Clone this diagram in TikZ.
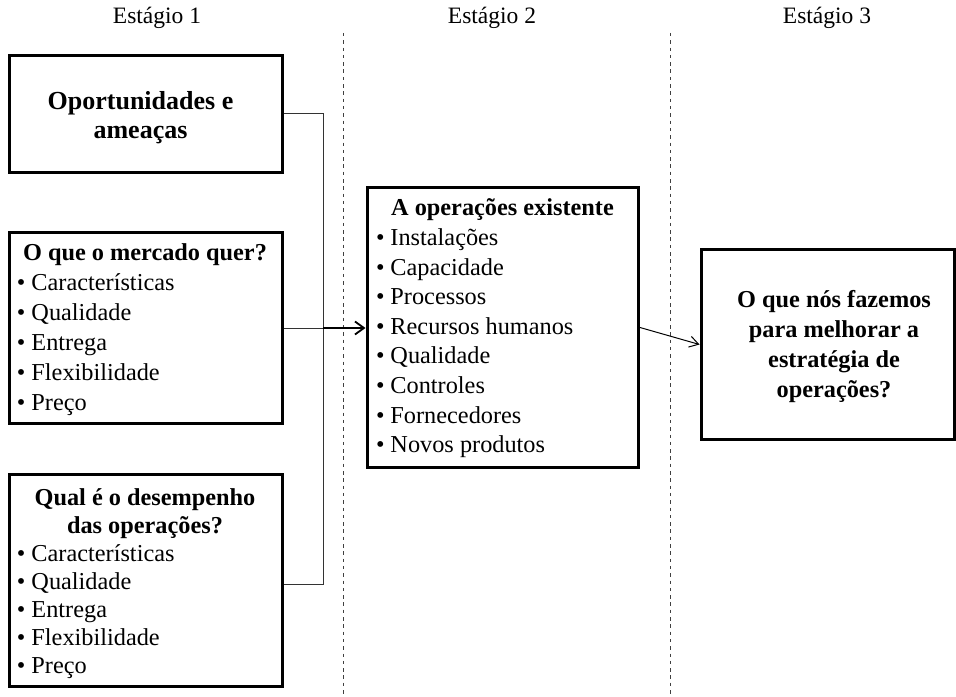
\documentclass[tikz,border=0pt]{standalone}
\usepackage{fontspec}
\setmainfont{Liberation Serif}
\usetikzlibrary{arrows.meta}
% one bulleted line, left-aligned in a box of the given width
\newcommand{\bitem}[2]{\makebox[#1][l]{\textbullet\hspace{6bp}#2}}
\begin{document}
\begin{tikzpicture}[x=1bp,y=-1bp,
  frame/.style={draw, line width=3bp, inner sep=0pt},
  txt/.style={inner sep=0pt, align=flush center, font=\fontsize{24.3bp}{29.5bp}\selectfont},
  hdr/.style={inner sep=0pt, font=\fontsize{23.5bp}{28bp}\selectfont},
  sep/.style={line width=1bp, draw=black!75, dash pattern=on 3.5bp off 3.8bp},
  conn/.style={line width=1bp, draw=black!80},
  feed/.style={line width=1.8bp, draw=black, -{Straight Barb[length=9bp,width=13bp,line width=1.8bp]}},
  resultarrow/.style={line width=1bp, draw=black, -{Straight Barb[length=9bp,width=11bp]}}
]
\useasboundingbox (0,0) rectangle (956,697);

% stage headers
\node[hdr] (h1) at (157,18) {Estágio 1};
\node[hdr] (h2) at (492,18) {Estágio 2};
\node[hdr] (h3) at (827,18) {Estágio 3};

% stage separators
\coordinate (s1a) at (343,33);
\coordinate (s1b) at (343,697);
\coordinate (s2a) at (670,33);
\coordinate (s2b) at (670,697);
\draw[sep] (s1a) -- (s1b);
\draw[sep] (s2a) -- (s2b);

% stage 1 boxes
\node[frame, minimum width=272bp, minimum height=116bp] (b1) at (146,114) {};
\node[frame, minimum width=272bp, minimum height=190bp] (b2) at (146,328) {};
\node[frame, minimum width=272bp, minimum height=212bp] (b3) at (146,580) {};

\node[txt, text width=230bp, font=\fontsize{26bp}{29.5bp}\selectfont\bfseries] (t1) at (140.5,117.5)
  {Oportunidades e\\ameaças};
\node[txt, text width=256bp, font=\fontsize{24.3bp}{30bp}\selectfont] (t2) at (145,330)
  {\textbf{O que o mercado quer?}\\
   \bitem{256bp}{Características}\\
   \bitem{256bp}{Qualidade}\\
   \bitem{256bp}{Entrega}\\
   \bitem{256bp}{Flexibilidade}\\
   \bitem{256bp}{Preço}};
\node[txt, text width=256bp, font=\fontsize{24.3bp}{28bp}\selectfont] (t3) at (145,583.5)
  {\textbf{Qual é o desempenho}\\
   \textbf{das operações?}\\
   \bitem{256bp}{Características}\\
   \bitem{256bp}{Qualidade}\\
   \bitem{256bp}{Entrega}\\
   \bitem{256bp}{Flexibilidade}\\
   \bitem{256bp}{Preço}};

% stage 2 box
\node[frame, minimum width=271.5bp, minimum height=279bp] (mid) at (502.75,327.5) {};
\node[txt, text width=253bp, font=\fontsize{24.3bp}{29.6bp}\selectfont] (tm) at (502.5,328.5)
  {\textbf{A operações existente}\\
   \bitem{253bp}{Instalações}\\
   \bitem{253bp}{Capacidade}\\
   \bitem{253bp}{Processos}\\
   \bitem{253bp}{Recursos humanos}\\
   \bitem{253bp}{Qualidade}\\
   \bitem{253bp}{Controles}\\
   \bitem{253bp}{Fornecedores}\\
   \bitem{253bp}{Novos produtos}};

% stage 3 box
\node[frame, minimum width=253bp, minimum height=189bp] (rb) at (827.5,344.5) {};
\node[txt, text width=240bp, font=\fontsize{24.3bp}{30bp}\selectfont\bfseries] (tr) at (834,347)
  {O que nós fazemos\\para melhorar a\\estratégia de\\operações?};

% connectors
\coordinate (j) at (323,328);
\coordinate (b3c) at ([yshift=-4bp]b3.east);
\draw[conn] (b1.east) -| (b3c -| j) -- (b3c);
\draw[conn] (b2.east) -- (j);
\draw[feed] (j) -- (j -| mid.west);
\draw[resultarrow] (mid.east) -- (rb.west);
\end{tikzpicture}
\end{document}
